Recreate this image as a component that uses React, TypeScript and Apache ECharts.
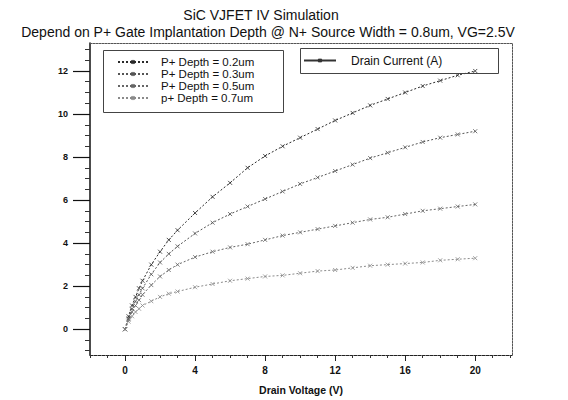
import React, { useEffect, useRef } from "react";
import * as echarts from "echarts";

const FONT = "'Liberation Sans', Arial, Helvetica, sans-serif";

const titleText = "SiC VJFET IV Simulation";
const subtitleText = "Depend on P+ Gate Implantation Depth @ N+ Source Width = 0.8um, VG=2.5V";
const xAxisName = "Drain Voltage (V)";

const seriesNames = [
  "P+ Depth = 0.2um",
  "P+ Depth = 0.3um",
  "P+ Depth = 0.5um",
  "p+ Depth = 0.7um",
];
const currentName = "Drain Current (A)";

// Drain voltage (V)
const voltage = [0, 0.2, 0.4, 0.6, 0.8, 1, 1.5, 2, 2.5, 3, 4, 5, 6, 7, 8, 9, 10, 11, 12, 13, 14, 15, 16, 17, 18, 19, 20];
// Drain current (A) per gate implantation depth
const depth02 = [0, 0.6, 1.1, 1.5, 1.9, 2.25, 3.0, 3.6, 4.15, 4.6, 5.4, 6.15, 6.8, 7.5, 8.05, 8.5, 8.9, 9.3, 9.7, 10.05, 10.4, 10.7, 11.0, 11.3, 11.55, 11.8, 12.0];
const depth03 = [0, 0.5, 0.95, 1.3, 1.6, 1.9, 2.55, 3.1, 3.5, 3.85, 4.45, 4.95, 5.35, 5.7, 6.05, 6.4, 6.75, 7.05, 7.35, 7.65, 7.95, 8.2, 8.45, 8.7, 8.9, 9.05, 9.2];
const depth05 = [0, 0.45, 0.8, 1.1, 1.35, 1.6, 2.05, 2.45, 2.75, 3.0, 3.35, 3.6, 3.8, 3.95, 4.15, 4.35, 4.5, 4.65, 4.8, 4.95, 5.1, 5.2, 5.35, 5.5, 5.6, 5.7, 5.8];
const depth07 = [0, 0.35, 0.6, 0.8, 0.95, 1.1, 1.3, 1.5, 1.65, 1.75, 1.95, 2.1, 2.25, 2.35, 2.45, 2.5, 2.6, 2.7, 2.75, 2.85, 2.95, 3.0, 3.05, 3.1, 3.2, 3.25, 3.3];

const xTicks = [0, 4, 8, 12, 16, 20];
const yTicks = [0, 2, 4, 6, 8, 10, 12];

const X_MIN = -2;
const X_MAX = 22.1;
const Y_MIN = -1.2;
const Y_MAX = 13.3;

const lineColors = ["#2a2a2a", "#555555", "#666666", "#8a8a8a"];

function minorValues(min: number, max: number, step: number, majors: number[]) {
  const out: number[] = [];
  const start = Math.ceil(min / step) * step;
  for (let v = start; v <= max + 1e-9; v += step) {
    const r = Math.round(v * 100) / 100;
    if (!majors.includes(r)) out.push(r);
  }
  return out;
}

export default function App() {
  const ref = useRef<HTMLDivElement>(null);

  useEffect(() => {
    if (!ref.current) return;
    const chart = echarts.init(ref.current, undefined, { renderer: "svg" });
    const curves = [depth02, depth03, depth05, depth07];
    const xMinor = minorValues(X_MIN, X_MAX, 1, xTicks);
    const yMinor = minorValues(Y_MIN, Y_MAX, 0.5, yTicks);
    const crossSymbol = "path://M0,0L10,10M10,0L0,10";

    const series: any[] = curves.map((c, i) => ({
      name: seriesNames[i],
      type: "line",
      xAxisIndex: 0,
      yAxisIndex: 0,
      data: voltage.map((v, j) => [v, c[j]]),
      symbol: crossSymbol,
      symbolSize: 4,
      showSymbol: true,
      lineStyle: { color: lineColors[i], width: 1, type: [2, 2] },
      itemStyle: { color: "none", borderColor: lineColors[i], borderWidth: 0.8 },
    }));
    series.push({
      name: currentName,
      type: "line",
      data: [],
      symbol: crossSymbol,
      symbolSize: 4,
      lineStyle: { color: "#333", width: 1 },
      itemStyle: { color: "none", borderColor: "#333", borderWidth: 0.8 },
    });

    const labelStyle = { fontFamily: FONT, fontSize: 10, fontWeight: "bold" as const, color: "#111" };

    chart.setOption({
      animation: false,
      backgroundColor: "#ffffff",
      textStyle: { fontFamily: FONT },
      graphic: [
        {
          type: "text",
          x: 261,
          y: 15,
          style: { text: titleText, font: `14px ${FONT}`, fill: "#111", textAlign: "center", textVerticalAlign: "middle" },
        },
        {
          type: "text",
          x: 268,
          y: 32,
          style: { text: subtitleText, font: `14px ${FONT}`, fill: "#111", textAlign: "center", textVerticalAlign: "middle" },
        },
        {
          type: "rect",
          shape: { x: 103.5, y: 50.5, width: 180, height: 62 },
          style: { fill: "none", stroke: "#444", lineWidth: 1 },
          z: 10,
        },
        {
          type: "rect",
          shape: { x: 300.5, y: 48.5, width: 198, height: 25 },
          style: { fill: "none", stroke: "#444", lineWidth: 1 },
          z: 10,
        },
      ],
      legend: [
        {
          data: seriesNames,
          orient: "vertical",
          left: 103,
          top: 50,
          itemWidth: 30,
          itemHeight: 4,
          itemGap: 0,
          padding: [6, 10, 12, 14],
          textStyle: { fontFamily: FONT, fontSize: 11.5, lineHeight: 11, color: "#111", padding: [0, 0, 0, 8] },
        },
        {
          data: [currentName],
          orient: "vertical",
          left: 300,
          top: 48,
          itemWidth: 32,
          itemHeight: 4,
          padding: [6.5, 10, 6.5, 3],
          textStyle: { fontFamily: FONT, fontSize: 12, lineHeight: 12, color: "#111", padding: [0, 0, 0, 10] },
        },
      ],
      grid: { left: 90, right: 56, top: 43, bottom: 38, containLabel: false },
      xAxis: [
        {
          type: "value",
          min: X_MIN,
          max: X_MAX,
          position: "bottom",
          name: xAxisName,
          nameLocation: "middle",
          nameGap: 29,
          nameTextStyle: { ...labelStyle, fontSize: 10.5 },
          axisLine: { show: true, onZero: false, lineStyle: { color: "#222", width: 1, type: [3, 1] } },
          axisTick: { show: true, customValues: xTicks, length: 6, lineStyle: { color: "#222" } },
          axisLabel: { customValues: xTicks, margin: 10, ...labelStyle },
          splitLine: { show: false },
        },
        {
          type: "value",
          min: X_MIN,
          max: X_MAX,
          position: "bottom",
          axisLine: { show: false, onZero: false },
          axisTick: { show: true, customValues: xMinor, length: 3, lineStyle: { color: "#333" } },
          axisLabel: { show: false },
          splitLine: { show: false },
        },
        {
          type: "value",
          min: X_MIN,
          max: X_MAX,
          position: "top",
          axisLine: { show: true, onZero: false, lineStyle: { color: "#555", width: 1, type: [2, 1] } },
          axisTick: { show: false },
          axisLabel: { show: false },
          splitLine: { show: false },
        },
      ],
      yAxis: [
        {
          type: "value",
          min: Y_MIN,
          max: Y_MAX,
          position: "left",
          axisLine: { show: true, onZero: false, lineStyle: { color: "#111", width: 1.5 } },
          axisTick: { show: true, customValues: yTicks, length: 17, lineStyle: { color: "#111", width: 1.2 } },
          axisLabel: { customValues: yTicks, margin: 22, ...labelStyle, fontSize: 9 },
          splitLine: { show: false },
        },
        {
          type: "value",
          min: Y_MIN,
          max: Y_MAX,
          position: "left",
          axisLine: { show: false, onZero: false },
          axisTick: { show: true, customValues: yMinor, length: 5, lineStyle: { color: "#333" } },
          axisLabel: { show: false },
          splitLine: { show: false },
        },
        {
          type: "value",
          min: Y_MIN,
          max: Y_MAX,
          position: "right",
          axisLine: { show: true, onZero: false, lineStyle: { color: "#555", width: 1, type: [2, 1] } },
          axisTick: { show: false },
          axisLabel: { show: false },
          splitLine: { show: false },
        },
      ],
      series,
    });
    return () => chart.dispose();
  }, []);

  return (
    <div
      ref={ref}
      style={{ position: "fixed", left: 0, top: 0, width: 568, height: 400, background: "#fff" }}
    />
  );
}
